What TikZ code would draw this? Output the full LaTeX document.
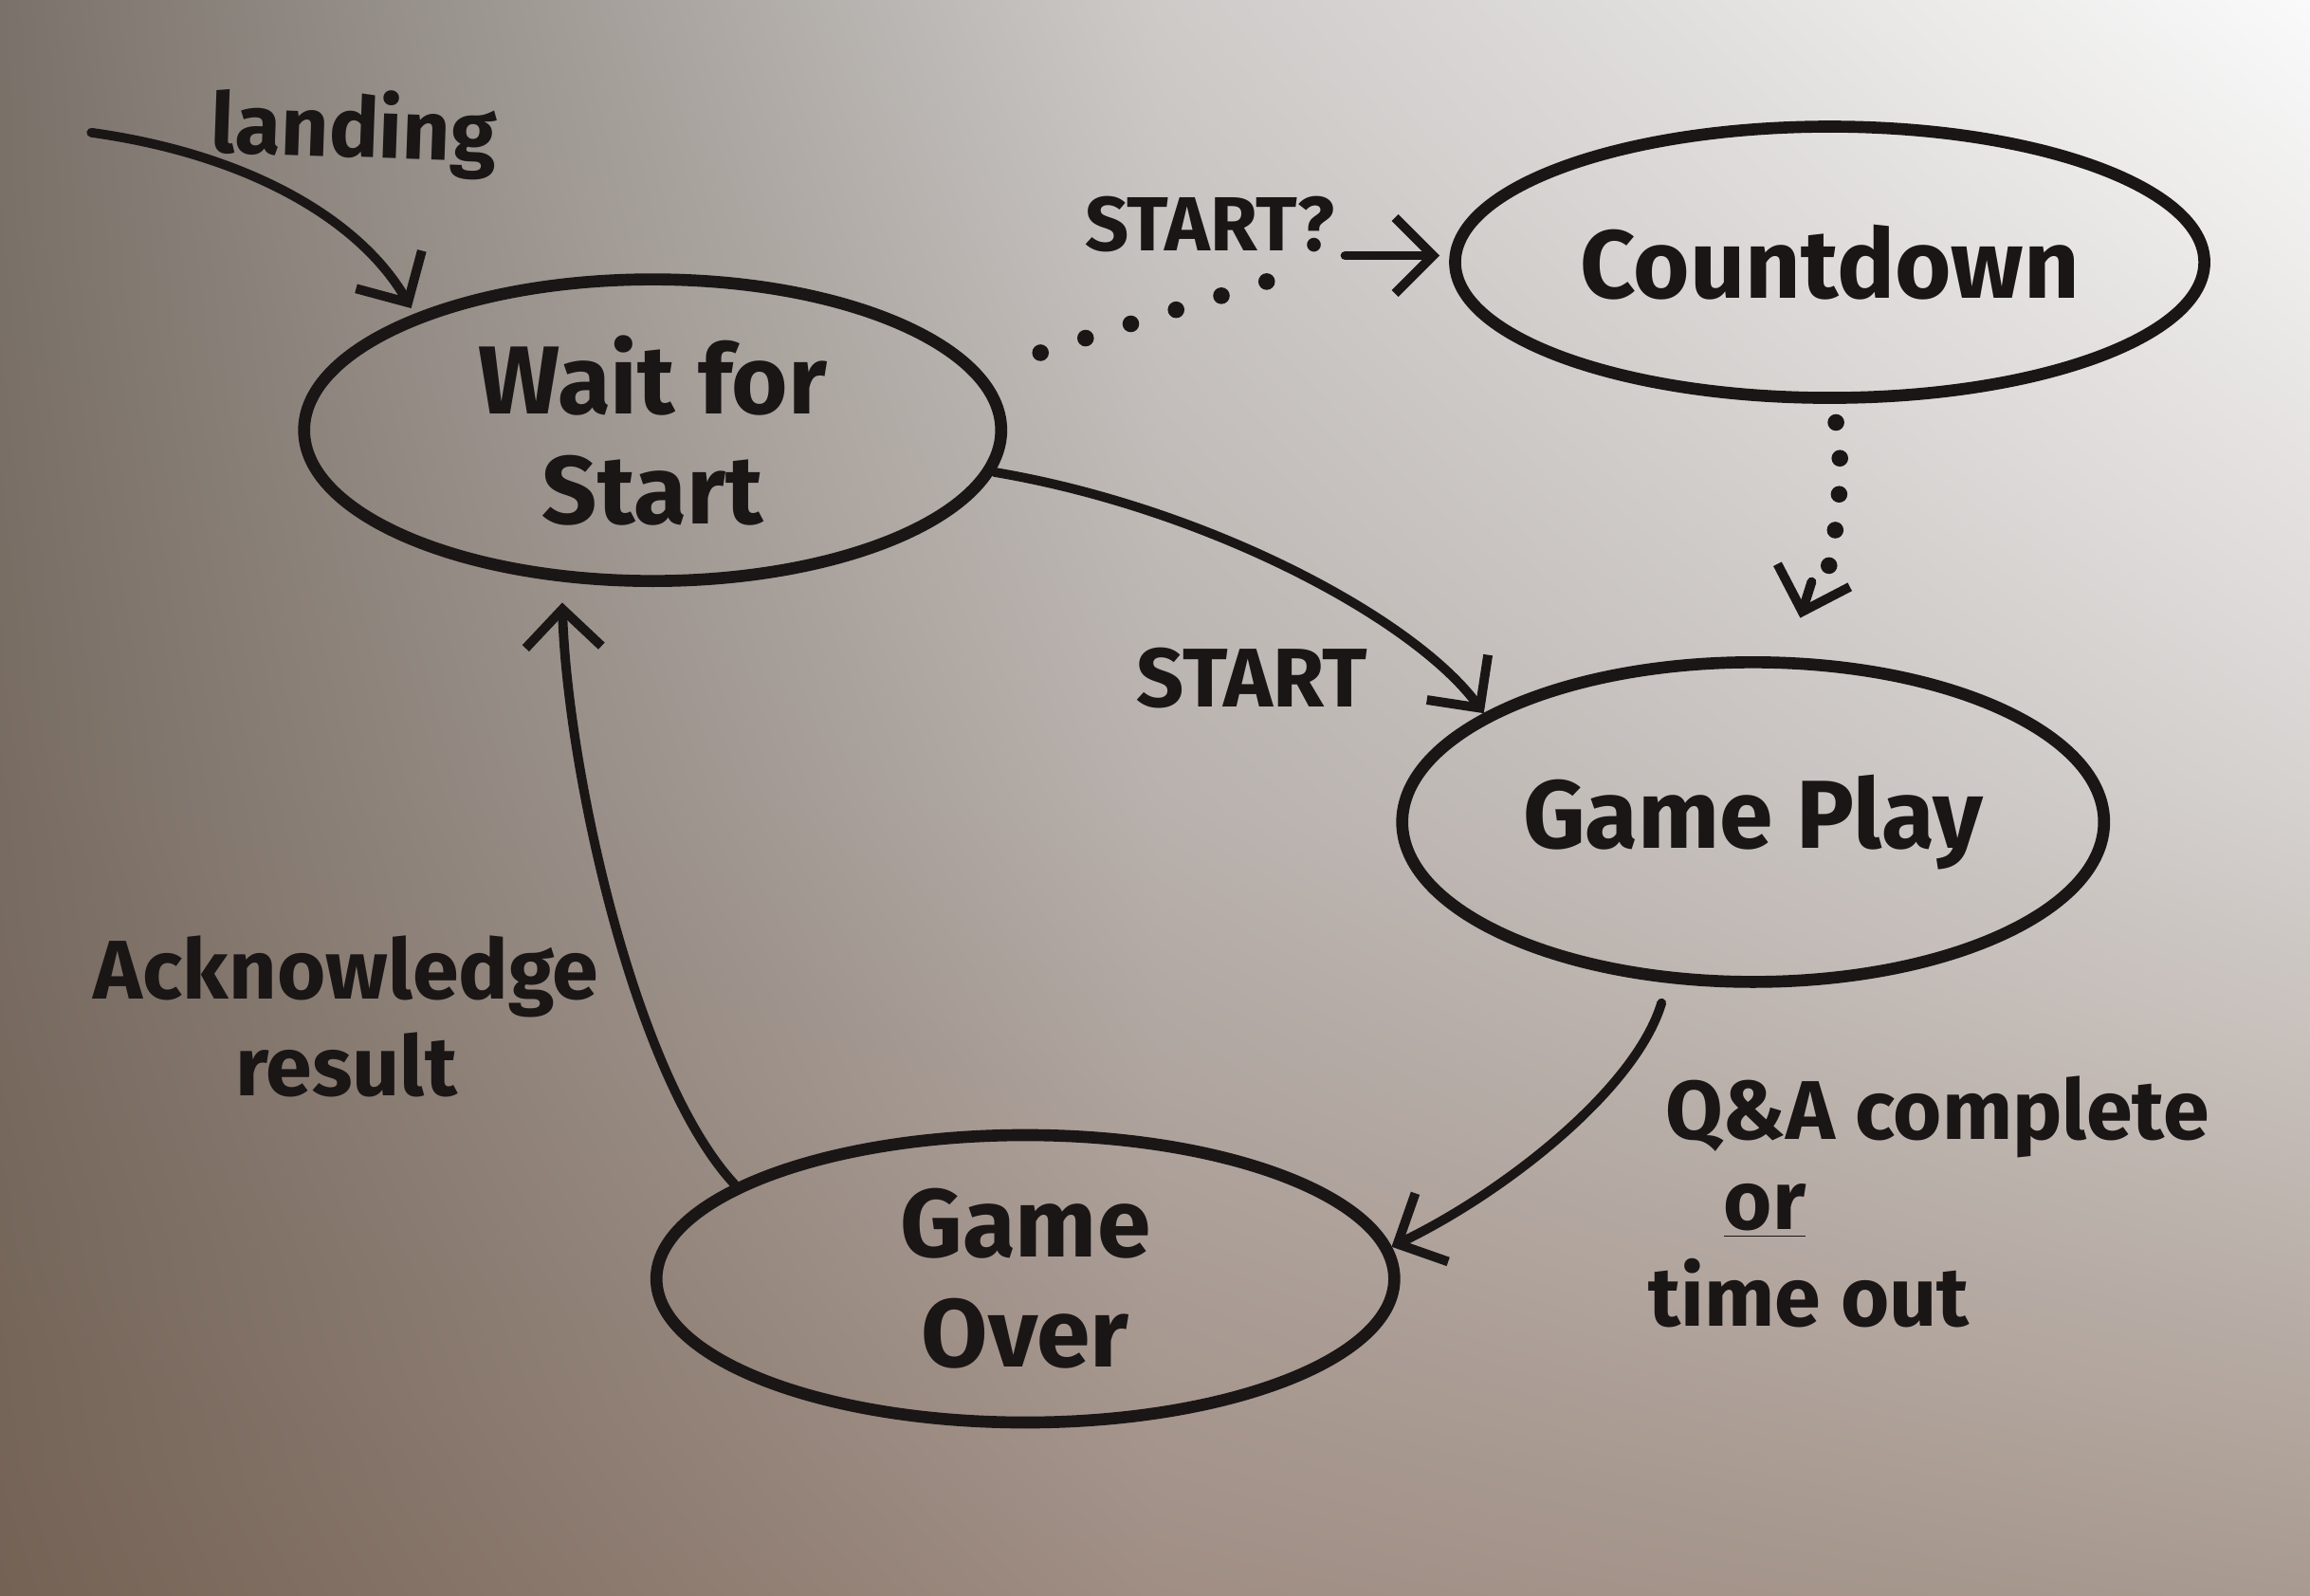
\documentclass[tikz,border=0pt]{standalone}
\usepackage{fontspec}
\setmainfont{Fira Sans}
\usetikzlibrary{shapes.geometric,arrows.meta,shadings}
\definecolor{inkc}{RGB}{26,22,22}
\definecolor{cA}{RGB}{122,114,106}
\definecolor{cB}{RGB}{205,202,200}
\definecolor{cC}{RGB}{250,250,250}
\definecolor{cD}{RGB}{120,108,98}
\definecolor{cE}{RGB}{184,177,173}
\definecolor{cF}{RGB}{214,210,208}
\definecolor{cG}{RGB}{116,98,85}
\definecolor{cH}{RGB}{160,142,132}
\definecolor{cI}{RGB}{168,154,144}
\begin{document}
\begin{tikzpicture}[x=0.015536cm,y=-0.015536cm,
  state/.style={ellipse, draw=inkc, line width=3.6pt, inner sep=0pt, align=center,
    font=\fontsize{29}{33}\selectfont\bfseries, text=inkc},
  trans/.style={draw=inkc, line width=2.8pt, line cap=round,
    -{Straight Barb[length=4mm,width=8mm]}},
  dots/.style={draw=inkc, line cap=round, line width=5pt, dash pattern=on 0pt off 0.5cm},
  lbl/.style={font=\fontsize{25}{29}\selectfont\bfseries, text=inkc, inner sep=0pt, align=center}]
\useasboundingbox (0,0) rectangle (1568,1083);
\shade[upper left=cA, upper right=cB, lower left=cD, lower right=cE] (0,0) rectangle (784.5,541.5);
\shade[upper left=cB, upper right=cC, lower left=cE, lower right=cF] (783.5,0) rectangle (1568,541.5);
\shade[upper left=cD, upper right=cE, lower left=cG, lower right=cH] (0,540.5) rectangle (784.5,1083);
\shade[upper left=cE, upper right=cF, lower left=cH, lower right=cI] (783.5,540.5) rectangle (1568,1083);

\node[state, minimum width=7.35cm, minimum height=3.18cm] (wait) at (443,292) {Wait for\\Start};
\node[state, minimum width=7.9cm, minimum height=2.86cm] (count) at (1242,178) {Countdown};
\node[state, minimum width=7.4cm, minimum height=3.37cm] (play) at (1190,558) {Game Play};
\node[state, minimum width=7.78cm, minimum height=3.03cm] (over) at (696,868) {Game\\Over};

\node[lbl, rotate=-2] (lland) at (240,90) {landing};
\node[lbl, font=\fontsize{23}{27}\selectfont\bfseries] (lstq) at (821,152) {START?};
\node[lbl] (lst) at (850,460) {START};
\node[lbl] (lack) at (235,690) {Acknowledge\\result};
\node[lbl] (lq) at (1315,758) {Q\&A complete};
\node[lbl] (lor) at (1198,822) {\underline{or}};
\node[lbl] (ltime) at (1228,878) {time out};

\coordinate (lstart) at (62,90);
\draw[trans, shorten >=2pt] (lstart) .. controls (170,105) and (245,150) .. (wait.154);
\draw[dots, shorten <=0.65cm, shorten >=1.5cm] (wait.10) .. controls (780,215) and (900,180) .. (count.179);
\draw[trans, shorten >=3pt] ([xshift=-1.1cm]count.179) -- (count.179);
\draw[dots, dash pattern=on 0pt off 0.38cm, shorten <=0.2cm, shorten >=0.95cm] (count.271) .. controls (1255,330) and (1240,390) .. (play.74);
\draw[trans] ([xshift=0.12cm,yshift=0.8cm]play.74) -- ([yshift=0.42cm]play.74);
\draw[trans] (wait.353) .. controls (820,345) and (960,420) .. (play.158);
\draw[trans, shorten <=0.22cm] (play.242) .. controls (1110,740) and (1020,810) .. (over.5);
\draw[trans, shorten >=0.22cm] (over.162) .. controls (430,730) and (385,520) .. (wait.239);
\end{tikzpicture}
\end{document}
